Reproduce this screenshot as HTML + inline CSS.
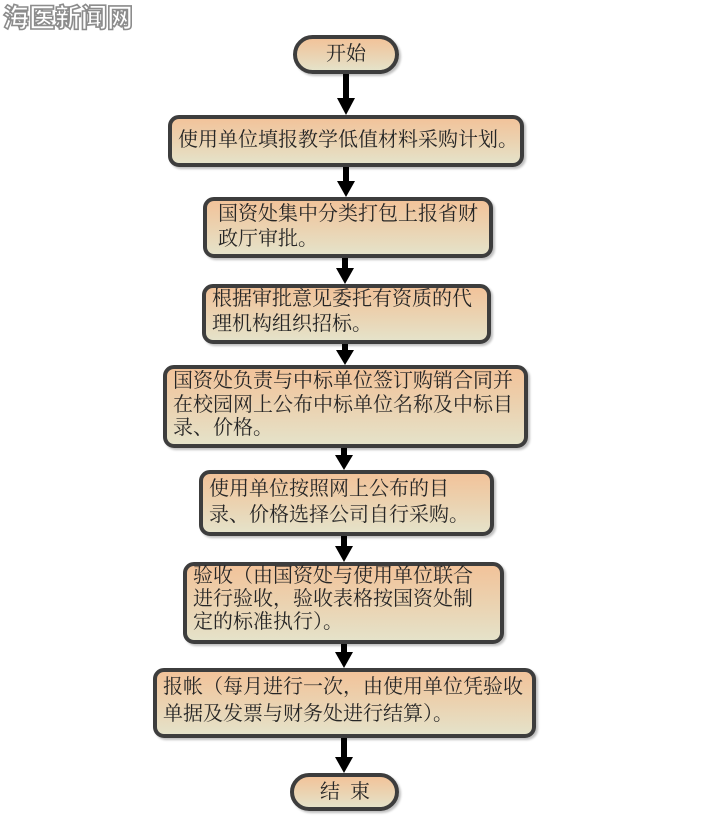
<!DOCTYPE html>
<html><head><meta charset="utf-8"><style>
html,body{margin:0;padding:0;background:#fff;}
body{width:707px;height:836px;position:relative;overflow:hidden;font-family:"Liberation Serif","Noto Serif CJK SC",serif;}
.b{position:absolute;box-sizing:border-box;border:4px solid #3d3d3d;border-radius:11px;background:linear-gradient(180deg,#f2c39a 0%,#ebd2b0 50%,#e5e2c9 100%);box-shadow:2px 2px 2px rgba(0,0,0,0.25);}
.o{border-radius:20px;}
.t{position:absolute;font-size:20px;color:#262626;white-space:pre;letter-spacing:0px;}
.wm{position:absolute;left:3px;top:2px;font-family:"Noto Sans CJK SC",sans-serif;font-weight:900;font-size:26px;line-height:30px;color:#fff;-webkit-text-stroke:1.6px #8c8c8c;letter-spacing:0px;}
</style></head><body>
<div class="wm">海医新闻网</div>

<div class="b o" style="left:293px;top:35px;width:106px;height:39px;"></div>
<div class="t" style="left:293px;top:41px;width:106px;text-align:center;line-height:26px;">开始</div>

<div class="b" style="left:168px;top:115px;width:356px;height:52px;"></div>
<div class="t" style="left:178px;top:127px;line-height:26px;">使用单位填报教学低值材料采购计划。</div>

<div class="b" style="left:203px;top:197px;width:290px;height:61px;"></div>
<div class="t" style="left:218px;top:202px;line-height:25px;">国资处集中分类打包上报省财
政厅审批。</div>

<div class="b" style="left:202px;top:284px;width:289px;height:60px;"></div>
<div class="t" style="left:212px;top:287px;line-height:25px;">根据审批意见委托有资质的代
理机构组织招标。</div>

<div class="b" style="left:163px;top:365px;width:365px;height:83px;"></div>
<div class="t" style="left:173px;top:370px;line-height:23.5px;">国资处负责与中标单位签订购销合同并
在校园网上公布中标单位名称及中标目
录、价格。</div>

<div class="b" style="left:199px;top:470px;width:295px;height:66px;"></div>
<div class="t" style="left:209px;top:476px;line-height:26px;">使用单位按照网上公布的目
录、价格选择公司自行采购。</div>

<div class="b" style="left:183px;top:562px;width:321px;height:82px;"></div>
<div class="t" style="left:193px;top:565px;line-height:23px;">验收（由国资处与使用单位联合
进行验收，验收表格按国资处制
定的标准执行）。</div>

<div class="b" style="left:153px;top:668px;width:383px;height:70px;"></div>
<div class="t" style="left:163px;top:674px;line-height:27px;">报帐（每月进行一次，由使用单位凭验收
单据及发票与财务处进行结算）。</div>

<div class="b o" style="left:290px;top:773px;width:109px;height:38px;"></div>
<div class="t" style="left:320px;top:779px;line-height:26px;">结  束</div>

<svg width="707" height="836" style="position:absolute;left:0;top:0;" xmlns="http://www.w3.org/2000/svg">
<g fill="#000">
<rect x="343" y="74" width="6" height="26"/><polygon points="337,98 355,98 346,115"/>
<rect x="343" y="167" width="6" height="15"/><polygon points="337,181 355,181 346,197"/>
<rect x="342" y="258" width="6" height="12"/><polygon points="336,268 354,268 345,284"/>
<rect x="342" y="344" width="6" height="8"/><polygon points="336,350 354,350 345,365"/>
<rect x="341" y="448" width="6" height="9"/><polygon points="335,455 353,455 344,470"/>
<rect x="341" y="536" width="6" height="12"/><polygon points="335,546 353,546 344,562"/>
<rect x="341" y="644" width="6" height="10"/><polygon points="335,652 353,652 344,668"/>
<rect x="341" y="738" width="6" height="21"/><polygon points="335,757 353,757 344,773"/>
</g>
</svg>
</body></html>
